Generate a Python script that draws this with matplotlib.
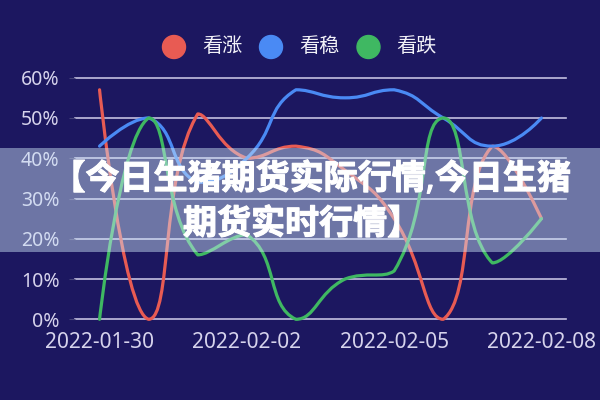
import matplotlib
matplotlib.use('Agg')
import matplotlib.pyplot as plt
import matplotlib.patheffects as pe
from matplotlib.path import Path
from matplotlib.patches import PathPatch, Circle, Rectangle
import numpy as np

plt.rcParams['font.family'] = ['Noto Sans', 'Noto Sans CJK SC', 'DejaVu Sans']

# data
dates = ['2022-01-30', '2022-01-31', '2022-02-01', '2022-02-02', '2022-02-03',
         '2022-02-04', '2022-02-05', '2022-02-06', '2022-02-07', '2022-02-08']
kanzhang = [57, 0, 51, 40, 43, 37, 25, 0, 43, 25]
kanwen = [43, 50, 34, 40, 57, 55, 57, 50, 43, 50]
kandie = [0, 50, 16, 21, 0, 10, 12, 50, 14, 25]
series_names = ['看涨', '看稳', '看跌']
colors = ['#e85b53', '#4a8af4', '#3fb862']
yticks = [0, 10, 20, 30, 40, 50, 60]
title_lines = ['【今日生猪期货实际行情,今日生猪', '期货实时行情】']

bg = '#1c1760'
gridc = '#c4c0e0'
textc = '#d6d3ec'


def smooth_path(ys, sx, sy, smooth=0.5):
    # echarts style smoothing, worked out in pixel units
    pts = [(i * sx, v * sy) for i, v in enumerate(ys)]
    n = len(pts)
    cin = [None] * n
    cout = [None] * n
    for i in range(n):
        x, y = pts[i]
        if i == 0 or i == n - 1:
            cin[i] = cout[i] = (x, y)
            continue
        px, py = pts[i - 1]
        nx, ny = pts[i + 1]
        vx, vy = nx - px, ny - py
        l0 = np.hypot(x - px, y - py)
        l1 = np.hypot(nx - x, ny - y)
        r = l1 / (l0 + l1)
        ax_, ay_ = x - vx * smooth * (1 - r), y - vy * smooth * (1 - r)
        bx_, by_ = x + vx * smooth * r, y + vy * smooth * r
        ax_ = min(max(ax_, min(px, x)), max(px, x))
        ay_ = min(max(ay_, min(py, y)), max(py, y))
        bx_ = min(max(bx_, min(nx, x)), max(nx, x))
        by_ = min(max(by_, min(ny, y)), max(ny, y))
        cin[i] = (ax_, ay_)
        cout[i] = (bx_, by_)
    verts = [pts[0]]
    codes = [Path.MOVETO]
    for i in range(n - 1):
        verts += [cout[i], cin[i + 1], pts[i + 1]]
        codes += [Path.CURVE4] * 3
    return Path([(a / sx, b / sy) for a, b in verts], codes)


fig = plt.figure(figsize=(6, 4), dpi=100, facecolor=bg)
ax = fig.add_axes([75 / 600, 1 - 319.3 / 400, 491 / 600, (319.3 - 77.7) / 400])
ax.set_facecolor('none')
ax.set_xlim(-0.5, len(dates) - 0.5)
ax.set_ylim(0, 60)
for s in ax.spines.values():
    s.set_visible(False)

for v in yticks:
    ax.axhline(v, color=gridc, lw=1.2, zorder=1, clip_on=False)

ax.set_yticks(yticks)
ax.set_yticklabels([f'{v}%' for v in yticks])
ax.tick_params(axis='y', length=4, color='#45427a', pad=7, labelsize=14, labelcolor=textc)
ax.set_xticks([0, 3, 6, 9])
ax.set_xticklabels(dates[::3])
ax.tick_params(axis='x', length=0, pad=9, labelsize=15, labelcolor=textc)

sx = 491 / len(dates)
sy = (319.3 - 77.7) / 60
for vals, c in zip([kanzhang, kanwen, kandie], colors):
    p = smooth_path(vals, sx, sy)
    ax.add_patch(PathPatch(p, facecolor='none', edgecolor=c, lw=2.3, zorder=3,
                           clip_on=False, capstyle='round', joinstyle='round'))

# overlay in pixel units: legend, band, title
ov = fig.add_axes([0, 0, 1, 1])
ov.set_xlim(0, 600)
ov.set_ylim(400, 0)
ov.axis('off')

leg_x = [174, 271, 368.5]
for x, c, name in zip(leg_x, colors, series_names):
    ov.add_patch(Circle((x, 47), 11.5, color=c))
    ov.text(x + 28, 47, name, ha='left', va='center', fontsize=14.5, color='#f2f2f8')

ov.add_patch(Rectangle((0, 148), 600, 104, color='#cfe6f8', alpha=0.46, lw=0, zorder=1))
heavy = [pe.withStroke(linewidth=0.8, foreground='white')]
ov.text(311, 180, title_lines[0], ha='center', va='center', fontsize=24.5,
        fontweight='bold', color='white', zorder=2, path_effects=heavy)
ov.text(302, 225, title_lines[1], ha='center', va='center', fontsize=24.5,
        fontweight='bold', color='white', zorder=2, path_effects=heavy)

fig.savefig('out.png', dpi=100, facecolor=bg)
